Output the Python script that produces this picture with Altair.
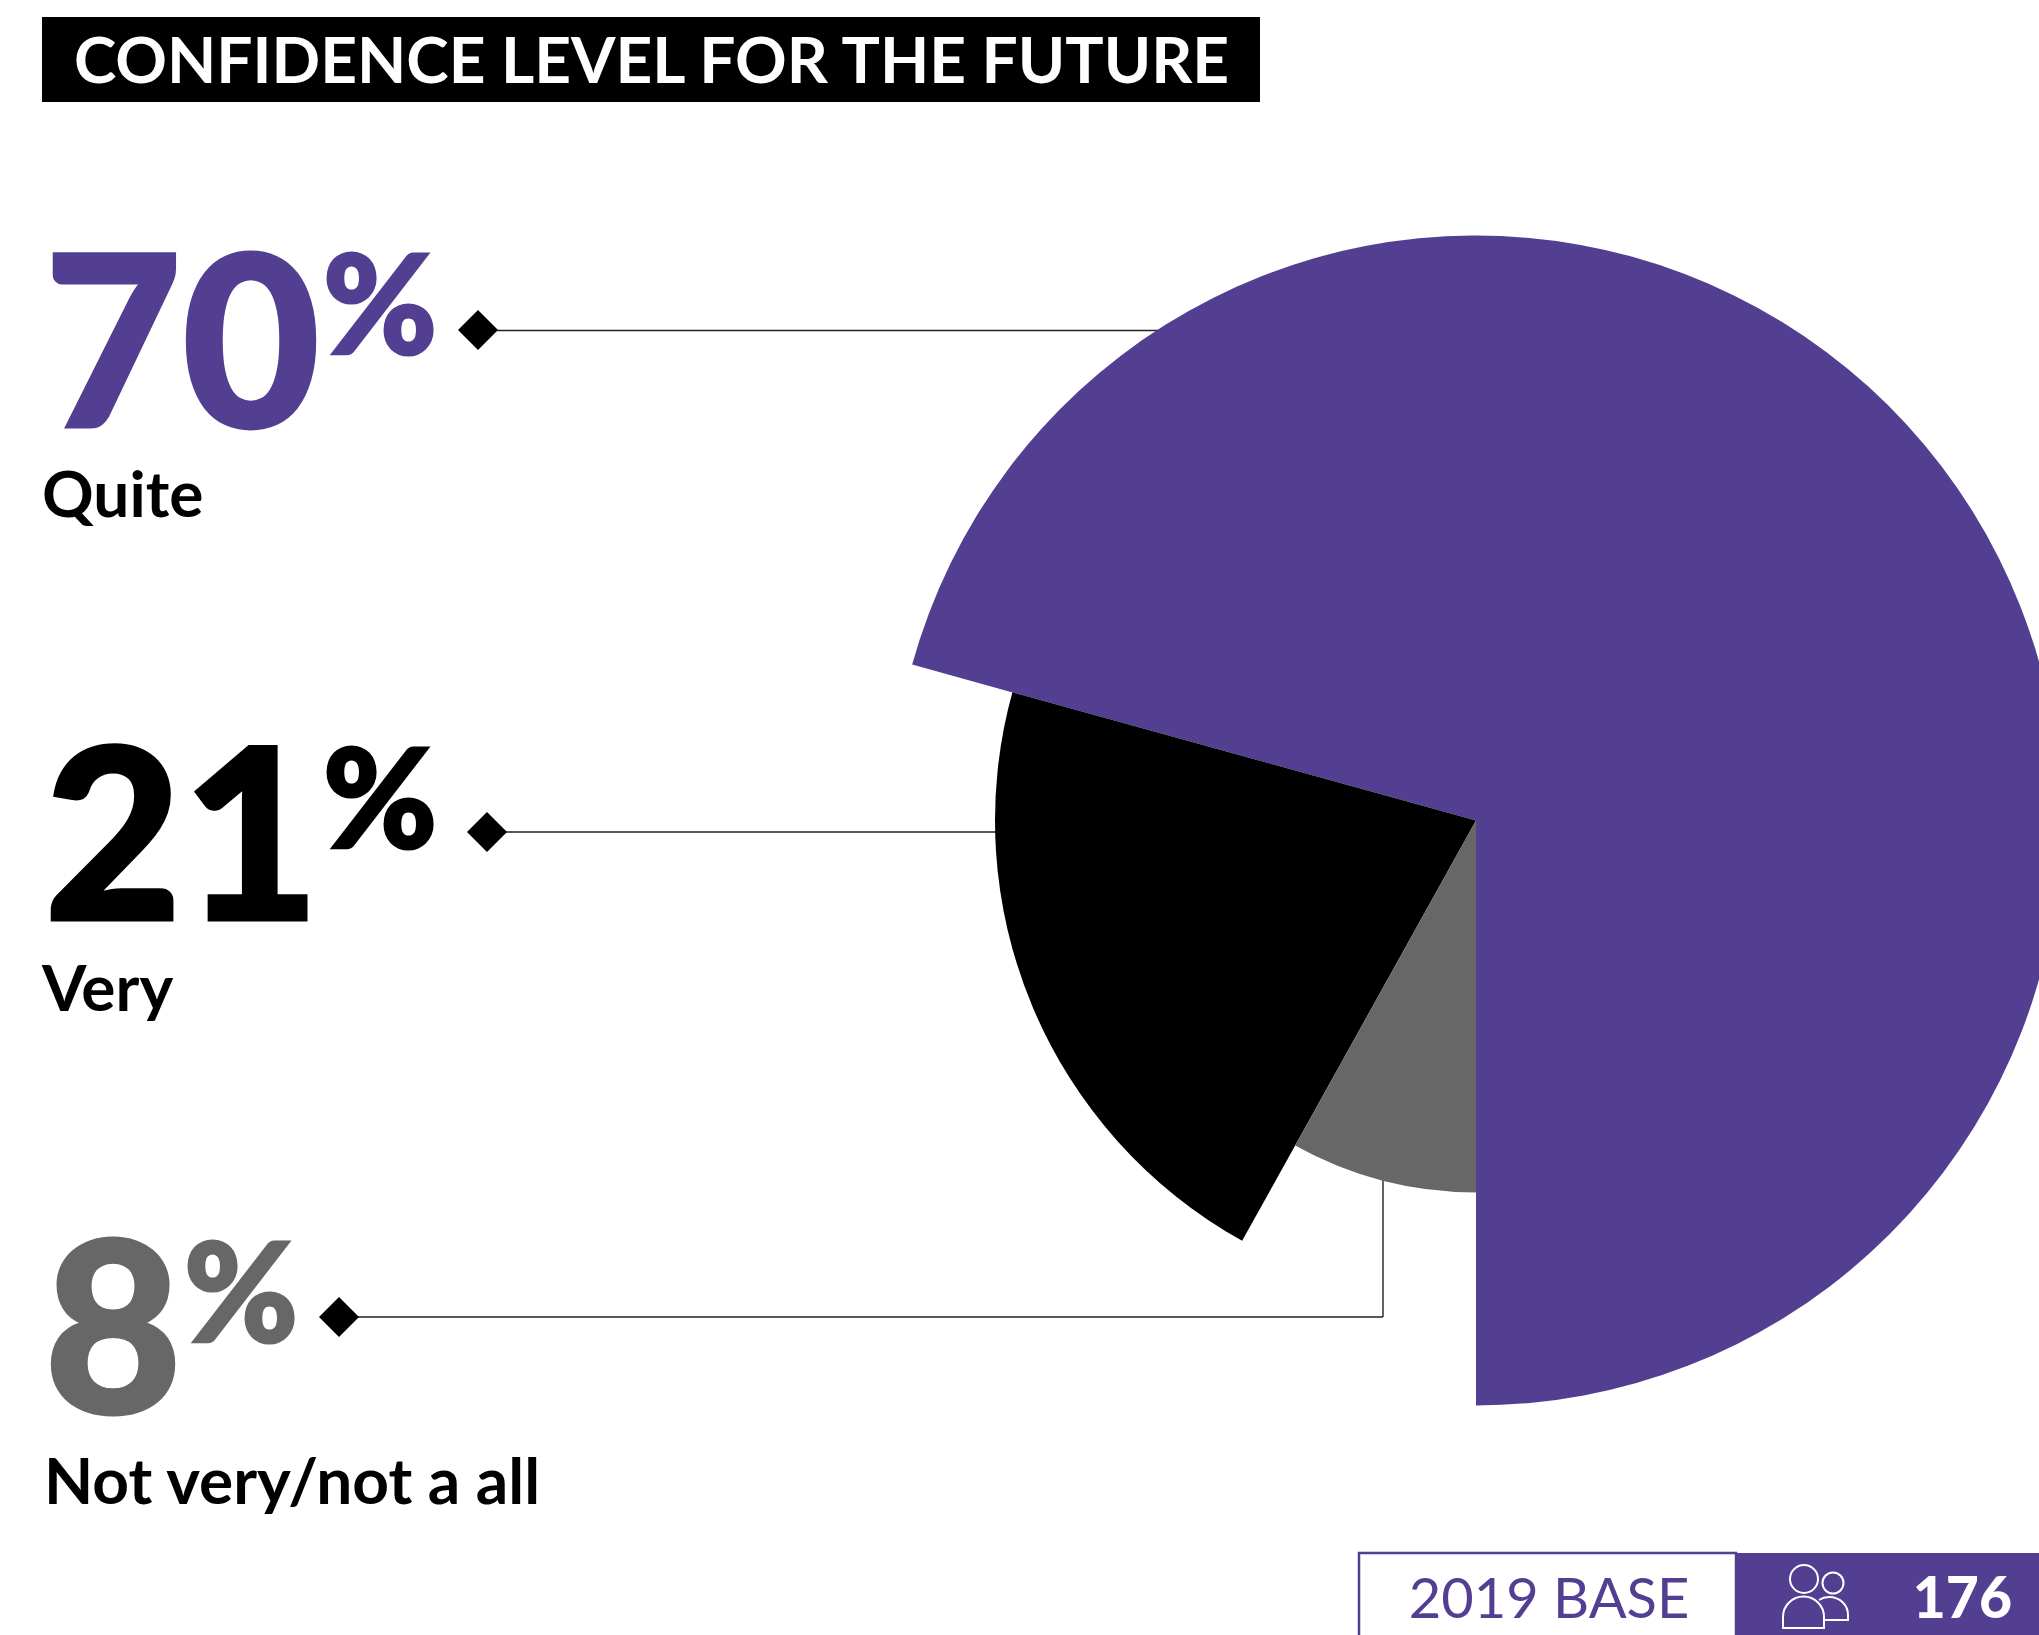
import math

import altair as alt
import pandas as pd

# Survey answers, largest share first
categories = ["Quite", "Very", "Not very/not a all"]
values = [70, 21, 8]
slice_colors = ["#533f92", "#000000", "#676767"]

title_text = "CONFIDENCE LEVEL FOR THE FUTURE"
base_label = "2019 BASE"
base_count = "176"

PURPLE = slice_colors[0]
BLACK = slice_colors[1]
GREY = slice_colors[2]
FONT = "Lato"

frame = pd.DataFrame({"category": categories, "value": values})

# Pictogram of two people, drawn in pixels around the symbol's anchor
PEOPLE_ICON = (
    "M-32 28 V17 A20.5 20.5 0 0 1 9 17 V28 Z "
    "M4 0 C7 -2 10 -3 14 -3 C25 -3 33 5 33 15 V20 H9 "
    "M3 -21 A14 14 0 1 1 -25 -21 A14 14 0 1 1 3 -21 Z "
    "M28.5 -17 A10.5 10.5 0 1 1 7.5 -17 A10.5 10.5 0 1 1 28.5 -17 Z"
)


def box(x, x2, y, y2, **style):
    return alt.Chart().mark_rect(**style).encode(
        x=alt.value(x), x2=alt.value(x2), y=alt.value(y), y2=alt.value(y2)
    )


def label(text, x, y, size, color=BLACK, weight=700, align="left", **style):
    return alt.Chart().mark_text(
        text=text, font=FONT, fontSize=size, fontWeight=weight, color=color,
        align=align, baseline="alphabetic", **style
    ).encode(x=alt.value(x), y=alt.value(y))


def figure(text, x, y, size, color):
    # Heavy numerals get a thin outline of their own colour for extra weight
    return label(text, x, y, size, color=color, weight=900, stroke=color, strokeWidth=3)


def hline(x, x2, y):
    return alt.Chart().mark_rule(color="#222222", strokeWidth=1.4).encode(
        x=alt.value(x), x2=alt.value(x2), y=alt.value(y)
    )


def vline(x, y, y2):
    return alt.Chart().mark_rule(color="#222222", strokeWidth=1.4).encode(
        x=alt.value(x), y=alt.value(y), y2=alt.value(y2)
    )


def diamond(x, y):
    return alt.Chart().mark_point(
        shape="diamond", filled=True, color=BLACK, opacity=1, size=1600
    ).encode(x=alt.value(x), y=alt.value(y))


# Slices run counter-clockwise from straight down; radius grows with the share
pie = alt.Chart(frame).mark_arc(stroke=None).encode(
    theta=alt.Theta(
        "value:Q",
        stack=True,
        scale=alt.Scale(domain=[0, sum(values)], range=[3 * math.pi, math.pi]),
    ),
    radius=alt.Radius(
        "value:Q",
        scale=alt.Scale(domain=[8, 21, 70], range=[372, 481, 585], zero=False),
    ),
    radius2=alt.value(0),
    color=alt.Color(
        "category:N",
        scale=alt.Scale(domain=categories, range=slice_colors),
        legend=None,
    ),
    order=alt.Order("value:Q", sort="descending"),
    x=alt.value(1476),
    y=alt.value(820.5),
)

icon = alt.Chart().mark_point(
    shape=PEOPLE_ICON, size=4, filled=False, color="#ffffff", strokeWidth=2, opacity=1
).encode(x=alt.value(1815), y=alt.value(1600))

layers = [
    # Leader lines sit under the pie so they stop at its edge
    hline(497, 1160, 330.5),
    hline(506, 1000, 832),
    hline(358, 1383, 1317),
    vline(1383, 1150, 1317),
    pie,
    diamond(478, 330),
    diamond(487, 832),
    diamond(339, 1317),
    # Heading bar
    box(42, 1260, 17, 102, color=BLACK),
    label(title_text, 74, 83, 64, color="#ffffff", weight=700),
    # Share figures with raised percent signs
    figure(str(values[0]), 44, 427, 238, PURPLE),
    figure("%", 323, 354, 138, PURPLE),
    label(categories[0], 42, 517, 64),
    figure(str(values[1]), 44, 920, 238, BLACK),
    figure("%", 323, 848, 138, BLACK),
    label(categories[1], 42, 1011, 64),
    figure(str(values[2]), 44, 1413, 238, GREY),
    figure("%", 184, 1342, 138, GREY),
    label(categories[2], 44, 1504, 64),
    # Sample size footer
    box(1736, 2039, 1553, 1635, color=PURPLE),
    box(1359, 1736, 1553, 1640, fill="#ffffff", stroke=PURPLE, strokeWidth=2.5),
    label(base_label, 1549, 1618, 56, color=PURPLE, weight=400, align="center"),
    icon,
    label(base_count, 2012, 1618, 57, color="#ffffff", weight=900, align="right"),
]

chart = alt.layer(*layers).properties(
    width=2039,
    height=1635,
    padding=0,
    autosize=alt.AutoSizeParams(type="none"),
    background="#ffffff",
).configure_view(stroke=None)

chart.save("out.html", embed_options={"renderer": "svg", "actions": False})
